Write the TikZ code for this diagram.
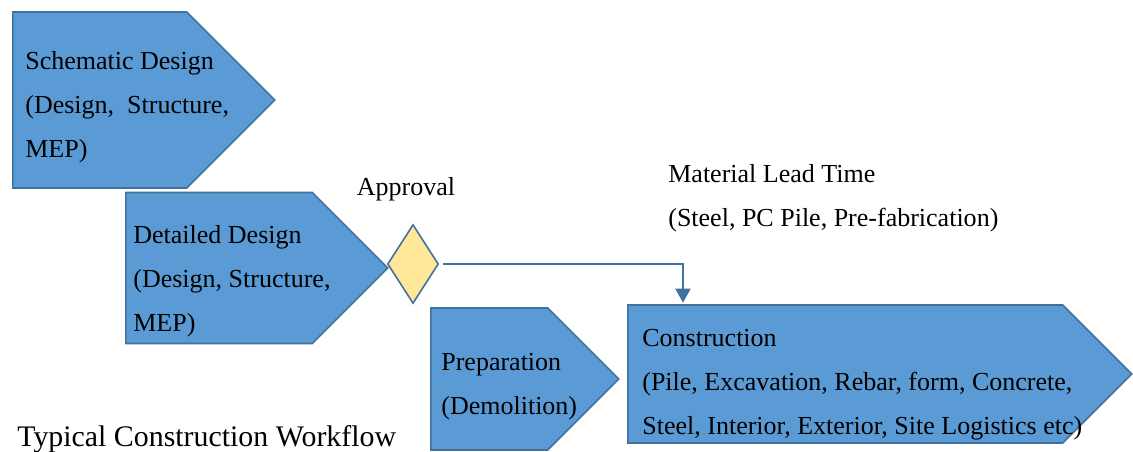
\documentclass[tikz,border=0pt]{standalone}
\usepackage{fontspec}
\setmainfont{Liberation Serif}
\usepackage{xcolor}
\usetikzlibrary{shapes.symbols, shapes.geometric, arrows.meta, positioning, calc}
\definecolor{stageblue}{HTML}{5B9BD5}
\definecolor{stageedge}{HTML}{41719C}
\definecolor{gateyellow}{HTML}{FFE699}

\begin{document}
\begin{tikzpicture}[x=0.02cm, y=-0.02cm,
    stage/.style={signal, signal to=east, signal pointer angle=90, draw=stageedge,
      fill=stageblue, line width=0.9pt, inner sep=0pt},
    gate/.style={diamond, draw=stageedge, fill=gateyellow, line width=0.9pt,
      inner sep=0pt, minimum width=1.02cm, minimum height=1.58cm},
    txt/.style={align=left, inner sep=0pt, font=\fontsize{14.8}{25}\selectfont},
    flow/.style={draw=stageedge, line width=1.1pt, -{Triangle[length=0.28cm, width=0.3cm]}}]
  \useasboundingbox (0,0) rectangle (1133,451);
  % stages
  \node [stage, anchor=west, minimum width=5.24cm, minimum height=3.52cm] (sd) at (12,100) {};
  \node [stage, anchor=west, minimum width=5.24cm, minimum height=3.02cm] (dd) at (125,268) {};
  \node [stage, anchor=west, minimum width=3.76cm, minimum height=2.84cm] (prep) at (430,379) {};
  \node [stage, anchor=west, minimum width=10.08cm, minimum height=2.76cm] (con) at (627,374) {};
  \node [gate] (ap) at (413,264) {};
  % texts
  \node [txt, anchor=west] (sdt) at ([xshift=0.26cm, yshift=-0.14cm]sd.west)
    {Schematic Design\\(Design,\ \ Structure,\\MEP)};
  \node [txt, anchor=west] (ddt) at ([xshift=0.16cm, yshift=-0.26cm]dd.west)
    {Detailed Design\\(Design, Structure,\\MEP)};
  \node [txt, anchor=west] (prept) at ([xshift=0.22cm, yshift=-0.15cm]prep.west)
    {Preparation\\(Demolition)};
  \node [txt, anchor=west] (cont) at ([xshift=0.3cm, yshift=-0.22cm]con.west)
    {Construction\\(Pile, Excavation, Rebar, form, Concrete,\\Steel, Interior, Exterior, Site Logistics etc)};
  \node [txt] (apt) at (406,189) {Approval};
  \node [txt, anchor=west] (mlt) at (668,198) {Material Lead Time\\(Steel, PC Pile, Pre-fabrication)};
  \node [txt, anchor=west, font=\fontsize{17}{20}\selectfont] (cap) at (17,439) {Typical Construction Workflow};
  % approval to construction
  \draw [flow, shorten <=0.08cm, shorten >=0.03cm] (ap.east) -| ([xshift=1.12cm]con.west |- con.north);
\end{tikzpicture}
\end{document}
